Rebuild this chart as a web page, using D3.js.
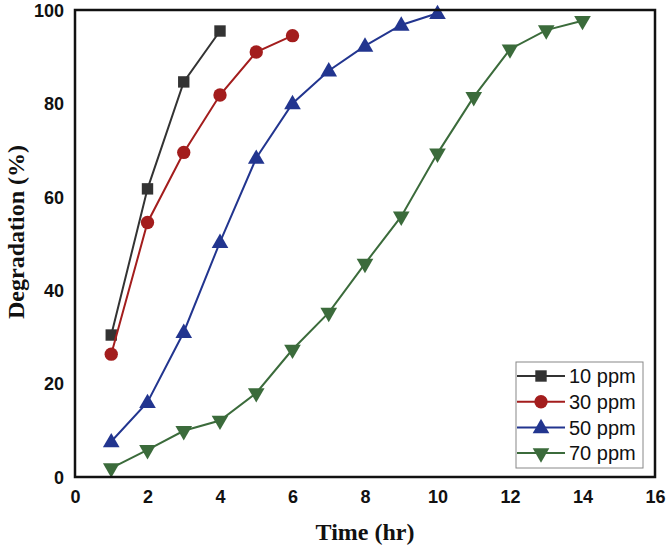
<!DOCTYPE html>
<html><head><meta charset="utf-8">
<script src="https://cdn.jsdelivr.net/npm/d3@7"></script>
<style>body{margin:0;background:#fff}</style>
</head><body><svg id="c" width="669" height="555"></svg>
<script>
const xTicks = [0,2,4,6,8,10,12,14,16];
const yTicks = [0,20,40,60,80,100];
const seriesNames = ["10 ppm","30 ppm","50 ppm","70 ppm"];
const seriesColors = ["#333333","#a31d1d","#22358f","#3b6b3b"];
const seriesSymbols = ["square","circle","triangle","triangleDown"];
const time10 = [1,2,3,4];
const deg10 = [30.4,61.7,84.6,95.5];
const time30 = [1,2,3,4,5,6];
const deg30 = [26.3,54.5,69.5,81.8,91.0,94.5];
const time50 = [1,2,3,4,5,6,7,8,9,10];
const deg50 = [7.6,16.0,31.0,50.3,68.3,80.0,87.0,92.3,96.8,99.3];
const time70 = [1,2,3,4,5,6,7,8,9,10,11,12,13,14];
const deg70 = [1.9,5.8,9.9,12.1,18.0,27.3,35.2,45.7,55.8,69.3,81.4,91.6,95.7,97.7];

const svg = d3.select("#c");
const L=75, R=655, T=10, B=477;
const x = d3.scaleLinear().domain([0,16]).range([L,R]);
const y = d3.scaleLinear().domain([0,100]).range([B,T]);

const series = [
  {t:time10,d:deg10},{t:time30,d:deg30},{t:time50,d:deg50},{t:time70,d:deg70}
];

function symbolPath(kind){
  if(kind==="square") return d3.symbol(d3.symbolSquare, 130)();
  if(kind==="circle") return d3.symbol(d3.symbolCircle, 140)();
  return d3.symbol(d3.symbolTriangle, 120)();
}
function symbolTransform(kind, px, py){
  if(kind==="triangleDown") return `translate(${px},${py}) rotate(180)`;
  if(kind==="triangle") return `translate(${px},${py+1})`;
  return `translate(${px},${py})`;
}

// axes
const xAxis = d3.axisBottom(x).tickValues(xTicks).tickSize(0).tickPadding(10);
const yAxis = d3.axisLeft(y).tickValues(yTicks).tickSize(0).tickPadding(11);
const gx = svg.append("g").attr("transform",`translate(0,${B})`).call(xAxis);
const gy = svg.append("g").attr("transform",`translate(${L},0)`).call(yAxis);
[gx,gy].forEach(g=>{
  g.select(".domain").remove();
  g.selectAll("text").attr("font-family","Liberation Sans, Arial, sans-serif")
   .attr("font-weight","bold").attr("font-size",18).attr("fill","#111");
});
gy.selectAll("text").attr("dy","0.35em");
gx.selectAll("text").attr("dy","0.9em");

// series
series.forEach((s,i)=>{
  const pts = s.t.map((t,j)=>[x(t),y(s.d[j])]);
  svg.append("path").attr("d",d3.line()(pts)).attr("fill","none")
    .attr("stroke",seriesColors[i]).attr("stroke-width",2);
  svg.append("g").selectAll("path").data(pts).join("path")
    .attr("d",symbolPath(seriesSymbols[i]))
    .attr("transform",p=>symbolTransform(seriesSymbols[i],p[0],p[1]))
    .attr("fill",seriesColors[i]);
});

// frame
svg.append("rect").attr("x",L).attr("y",T).attr("width",R-L).attr("height",B-T)
  .attr("fill","none").attr("stroke","#111").attr("stroke-width",2.5);

// legend
const lg = svg.append("g");
lg.append("rect").attr("x",516).attr("y",362).attr("width",127).attr("height",106)
  .attr("fill","#fff").attr("stroke","#888").attr("stroke-width",1);
seriesNames.forEach((n,i)=>{
  const yy = 376 + i*25.7;
  lg.append("line").attr("x1",517).attr("x2",565).attr("y1",yy).attr("y2",yy)
    .attr("stroke",seriesColors[i]).attr("stroke-width",2);
  lg.append("path").attr("d",symbolPath(seriesSymbols[i]))
    .attr("transform",symbolTransform(seriesSymbols[i],541,yy)).attr("fill",seriesColors[i]);
  lg.append("text").attr("x",569).attr("y",yy).attr("dy","0.36em")
    .attr("font-family","Liberation Sans, Arial, sans-serif").attr("font-size",20)
    .attr("fill","#111").text(n);
});

// axis titles
svg.append("text").attr("x",365).attr("y",540).attr("text-anchor","middle")
  .attr("font-family","Liberation Serif, Times New Roman, serif").attr("font-weight","bold")
  .attr("font-size",24).attr("fill","#111").text("Time (hr)");
svg.append("text").attr("transform",`translate(24,232) rotate(-90)`)
  .attr("text-anchor","middle")
  .attr("font-family","Liberation Serif, Times New Roman, serif").attr("font-weight","bold")
  .attr("font-size",24).attr("fill","#111").text("Degradation (%)");
</script></body></html>
